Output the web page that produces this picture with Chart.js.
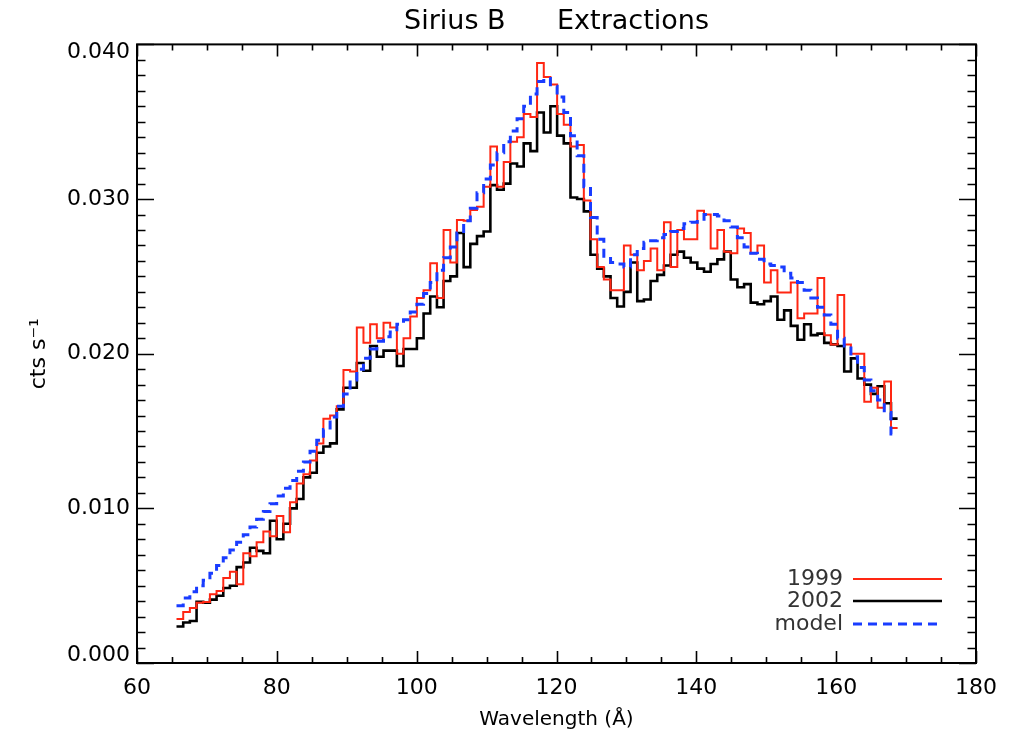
<!DOCTYPE html>
<html><head><meta charset="utf-8">
<script src="https://cdn.jsdelivr.net/npm/chart.js@4.4.1/dist/chart.umd.min.js"></script>
<style>html,body{margin:0;padding:0;background:#fff}canvas{display:block}</style>
</head><body>
<canvas id="c" width="1015" height="734"></canvas>
<script>
// Bin edges (Angstrom) of the extracted spectra, 108 bins
const wavelengthEdges = [
 65.65, 66.61, 67.56, 68.52, 69.47, 70.43, 71.38, 72.34, 73.29, 74.25,
 75.20, 76.16, 77.11, 78.07, 79.02, 79.98, 80.93, 81.89, 82.84, 83.80,
 84.75, 85.71, 86.66, 87.62, 88.57, 89.53, 90.48, 91.44, 92.39, 93.35,
 94.30, 95.26, 96.21, 97.17, 98.12, 99.08, 100.03, 100.99, 101.94, 102.90,
 103.85, 104.81, 105.76, 106.72, 107.67, 108.63, 109.58, 110.54, 111.49, 112.45,
 113.40, 114.36, 115.31, 116.27, 117.22, 118.18, 119.13, 120.09, 121.04, 122.00,
 122.95, 123.91, 124.86, 125.82, 126.77, 127.73, 128.68, 129.64, 130.59, 131.55,
 132.50, 133.46, 134.41, 135.37, 136.32, 137.28, 138.23, 139.19, 140.14, 141.10,
 142.05, 143.01, 143.96, 144.92, 145.87, 146.83, 147.78, 148.74, 149.69, 150.65,
 151.60, 152.56, 153.51, 154.47, 155.42, 156.38, 157.33, 158.29, 159.24, 160.20,
 161.15, 162.11, 163.06, 164.02, 164.97, 165.93, 166.88, 167.84, 168.79
];
// cts s^-1 per bin
const flux1999 = [
 0.00285, 0.00330, 0.00355, 0.00390, 0.00395, 0.00445, 0.00465, 0.00550, 0.00590, 0.00510,
 0.00710, 0.00690, 0.00780, 0.00850, 0.00820, 0.00950, 0.00845, 0.01040, 0.01160, 0.01220,
 0.01310, 0.01420, 0.01580, 0.01600, 0.01660, 0.01895, 0.01885, 0.02170, 0.02070, 0.02190,
 0.02100, 0.02200, 0.02170, 0.02000, 0.02100, 0.02240, 0.02360, 0.02410, 0.02585, 0.02360,
 0.02800, 0.02590, 0.02865, 0.02860, 0.02930, 0.02950, 0.03080, 0.03340, 0.03080, 0.03240,
 0.03370, 0.03400, 0.03550, 0.03530, 0.03880, 0.03790, 0.03740, 0.03550, 0.03480, 0.03340,
 0.03350, 0.02990, 0.02740, 0.02560, 0.02480, 0.02410, 0.02410, 0.02700, 0.02640, 0.02540,
 0.02600, 0.02680, 0.02540, 0.02850, 0.02560, 0.02800, 0.02740, 0.02740, 0.02925, 0.02900,
 0.02680, 0.02800, 0.02660, 0.02650, 0.02810, 0.02780, 0.02650, 0.02700, 0.02460, 0.02540,
 0.02395, 0.02395, 0.02460, 0.02230, 0.02260, 0.02260, 0.02490, 0.02120, 0.02060, 0.02380,
 0.02060, 0.02000, 0.02000, 0.01690, 0.01780, 0.01650, 0.01820, 0.01520
];
const flux2002 = [
 0.00236, 0.00262, 0.00272, 0.00395, 0.00390, 0.00410, 0.00435, 0.00485, 0.00500, 0.00620,
 0.00650, 0.00745, 0.00725, 0.00710, 0.00920, 0.00800, 0.00900, 0.01000, 0.01060, 0.01200,
 0.01230, 0.01360, 0.01400, 0.01420, 0.01640, 0.01780, 0.01780, 0.01940, 0.01890, 0.02050,
 0.01980, 0.02020, 0.02020, 0.01920, 0.02030, 0.02030, 0.02100, 0.02260, 0.02370, 0.02300,
 0.02470, 0.02500, 0.02780, 0.02560, 0.02710, 0.02760, 0.02790, 0.03090, 0.03060, 0.03100,
 0.03230, 0.03210, 0.03360, 0.03310, 0.03560, 0.03430, 0.03600, 0.03410, 0.03360, 0.03010,
 0.03000, 0.02920, 0.02640, 0.02550, 0.02500, 0.02360, 0.02305, 0.02400, 0.02590, 0.02340,
 0.02350, 0.02470, 0.02510, 0.02570, 0.02640, 0.02660, 0.02620, 0.02590, 0.02550, 0.02530,
 0.02580, 0.02610, 0.02660, 0.02480, 0.02430, 0.02450, 0.02330, 0.02320, 0.02340, 0.02370,
 0.02220, 0.02280, 0.02180, 0.02090, 0.02190, 0.02120, 0.02130, 0.02070, 0.02060, 0.02050,
 0.01885, 0.01970, 0.01840, 0.01800, 0.01740, 0.01790, 0.01680, 0.01580
];
const fluxModel = [
 0.00370, 0.00420, 0.00460, 0.00500, 0.00535, 0.00580, 0.00630, 0.00680, 0.00730, 0.00780,
 0.00830, 0.00880, 0.00930, 0.00980, 0.01030, 0.01080, 0.01130, 0.01180, 0.01240, 0.01300,
 0.01370, 0.01440, 0.01510, 0.01590, 0.01660, 0.01740, 0.01830, 0.01900, 0.01970, 0.02030,
 0.02080, 0.02110, 0.02140, 0.02190, 0.02220, 0.02270, 0.02320, 0.02390, 0.02460, 0.02540,
 0.02620, 0.02690, 0.02780, 0.02860, 0.02940, 0.03040, 0.03130, 0.03220, 0.03300, 0.03370,
 0.03440, 0.03520, 0.03600, 0.03680, 0.03760, 0.03780, 0.03730, 0.03660, 0.03560, 0.03410,
 0.03280, 0.03080, 0.02880, 0.02740, 0.02630, 0.02590, 0.02580, 0.02560, 0.02640, 0.02680,
 0.02720, 0.02730, 0.02750, 0.02770, 0.02790, 0.02810, 0.02840, 0.02850, 0.02870, 0.02900,
 0.02900, 0.02890, 0.02860, 0.02820, 0.02750, 0.02690, 0.02650, 0.02610, 0.02580, 0.02570,
 0.02560, 0.02520, 0.02490, 0.02460, 0.02410, 0.02360, 0.02300, 0.02250, 0.02190, 0.02100,
 0.02050, 0.01980, 0.01910, 0.01830, 0.01760, 0.01700, 0.01620, 0.01480
];
const seriesLabels = ['1999', '2002', 'model'];
const xTickValues = [60, 80, 100, 120, 140, 160, 180];
const yTickValues = [0.000, 0.010, 0.020, 0.030, 0.040];

const FONT = "'DejaVu Sans', 'Liberation Sans', sans-serif";
const RED = 'rgb(255,38,18)';
const BLUE = 'rgb(25,60,255)';

function histPoints(values) {
  return wavelengthEdges.map((x, i) => ({ x: x, y: values[Math.min(i, values.length - 1)] }));
}

// IDL-style frame with inward major/minor ticks on all four sides
const framePlugin = {
  id: 'idlFrame',
  afterDraw(chart) {
    const { ctx, chartArea: a, scales } = chart;
    const xs = scales.x, ys = scales.y;
    ctx.save();
    ctx.strokeStyle = '#000';
    ctx.lineWidth = 2;
    ctx.strokeRect(a.left, a.top, a.right - a.left, a.bottom - a.top);
    ctx.lineWidth = 1.6;
    ctx.beginPath();
    const xMin = xTickValues[0], xMax = xTickValues[xTickValues.length - 1];
    const xMajor = xTickValues[1] - xTickValues[0];
    for (let k = 0; k <= (xMax - xMin) / 5; k++) {
      const v = xMin + k * 5;
      const px = Math.round(xs.getPixelForValue(v)) + 0.5;
      const len = (Math.abs((v - xMin) % xMajor) < 1e-9) ? 12 : 6;
      ctx.moveTo(px, a.bottom); ctx.lineTo(px, a.bottom - len);
      ctx.moveTo(px, a.top); ctx.lineTo(px, a.top + len);
    }
    const yMax = yTickValues[yTickValues.length - 1];
    for (let k = 0; k <= Math.round(yMax / 0.001); k++) {
      const v = k * 0.001;
      const py = Math.round(ys.getPixelForValue(v)) + 0.5;
      const len = (k % 10 === 0) ? 17 : 8.5;
      ctx.moveTo(a.left, py); ctx.lineTo(a.left + len, py);
      ctx.moveTo(a.right, py); ctx.lineTo(a.right - len, py);
    }
    ctx.stroke();
    ctx.restore();
  }
};

// Legend drawn IDL style: label text, then line sample
const legendPlugin = {
  id: 'idlLegend',
  afterDraw(chart) {
    const { ctx, chartArea: a } = chart;
    const ds = chart.data.datasets;
    const lineEnd = a.right - 34, lineStart = lineEnd - 89, textRight = lineStart - 10;
    const rows = [a.bottom - 84, a.bottom - 62, a.bottom - 39];
    ctx.save();
    ctx.font = "22px " + FONT;
    ctx.textAlign = 'right';
    ctx.textBaseline = 'middle';
    ctx.fillStyle = '#333';
    seriesLabels.forEach((lab, i) => {
      const d = ds[i];
      ctx.fillText(lab, textRight, rows[i]);
      ctx.beginPath();
      ctx.strokeStyle = d.borderColor;
      ctx.lineWidth = d.borderWidth;
      ctx.setLineDash(d.borderDash || []);
      ctx.moveTo(lineStart, rows[i]);
      ctx.lineTo(lineEnd, rows[i]);
      ctx.stroke();
    });
    ctx.restore();
  }
};

const yMaxTick = yTickValues[yTickValues.length - 1];

new Chart(document.getElementById('c'), {
  type: 'line',
  data: {
    datasets: [
      { label: seriesLabels[0], data: histPoints(flux1999), borderColor: RED, borderWidth: 2, stepped: true, order: 1 },
      { label: seriesLabels[1], data: histPoints(flux2002), borderColor: '#000', borderWidth: 2.6, stepped: true, order: 2 },
      { label: seriesLabels[2], data: histPoints(fluxModel), borderColor: BLUE, borderWidth: 3, borderDash: [9, 6], stepped: true, order: 0 }
    ]
  },
  options: {
    responsive: false,
    maintainAspectRatio: false,
    devicePixelRatio: 1,
    animation: false,
    layout: { padding: { left: 0, right: 39, top: 0, bottom: 0 } },
    elements: { point: { radius: 0 }, line: { fill: false, tension: 0, borderJoinStyle: 'miter' } },
    plugins: {
      legend: { display: false },
      tooltip: { enabled: false },
      title: {
        display: true,
        fullSize: false,
        text: 'Sirius B      Extractions',
        color: '#000',
        font: { family: FONT, size: 27, weight: 'normal' },
        padding: { top: 6, bottom: 6 }
      }
    },
    scales: {
      x: {
        type: 'linear',
        min: xTickValues[0],
        max: xTickValues[xTickValues.length - 1],
        grid: { display: false, drawTicks: false },
        border: { display: false },
        ticks: {
          stepSize: xTickValues[1] - xTickValues[0],
          color: '#000',
          font: { family: FONT, size: 22, weight: 'normal' },
          padding: 12,
          maxRotation: 0,
          callback: v => String(v)
        },
        title: {
          display: true,
          text: 'Wavelength (Å)',
          color: '#000',
          font: { family: FONT, size: 20, weight: 'normal' },
          padding: { top: 0, bottom: 2 }
        },
        afterFit: s => { s.height = 71; }
      },
      y: {
        type: 'linear',
        min: yTickValues[0],
        max: yMaxTick,
        grid: { display: false, drawTicks: false },
        border: { display: false },
        ticks: {
          stepSize: yTickValues[1] - yTickValues[0],
          color: '#000',
          font: { family: FONT, size: 22, weight: 'normal', lineHeight: '16px' },
          padding: 7,
          // keep the end labels inside the frame, as in the original plot
          callback: v => {
            const t = Number(v).toFixed(3);
            if (Math.abs(v - yMaxTick) < 1e-9) return ['', t];
            if (Math.abs(v) < 1e-9) return [t, ''];
            return t;
          }
        },
        title: {
          display: true,
          text: 'cts s⁻¹',
          color: '#000',
          font: { family: FONT, size: 22, weight: 'normal' },
          padding: { top: 26, bottom: 0 }
        },
        afterFit: s => { s.width = 137; }
      }
    }
  },
  plugins: [framePlugin, legendPlugin]
});
</script>
</body></html>
